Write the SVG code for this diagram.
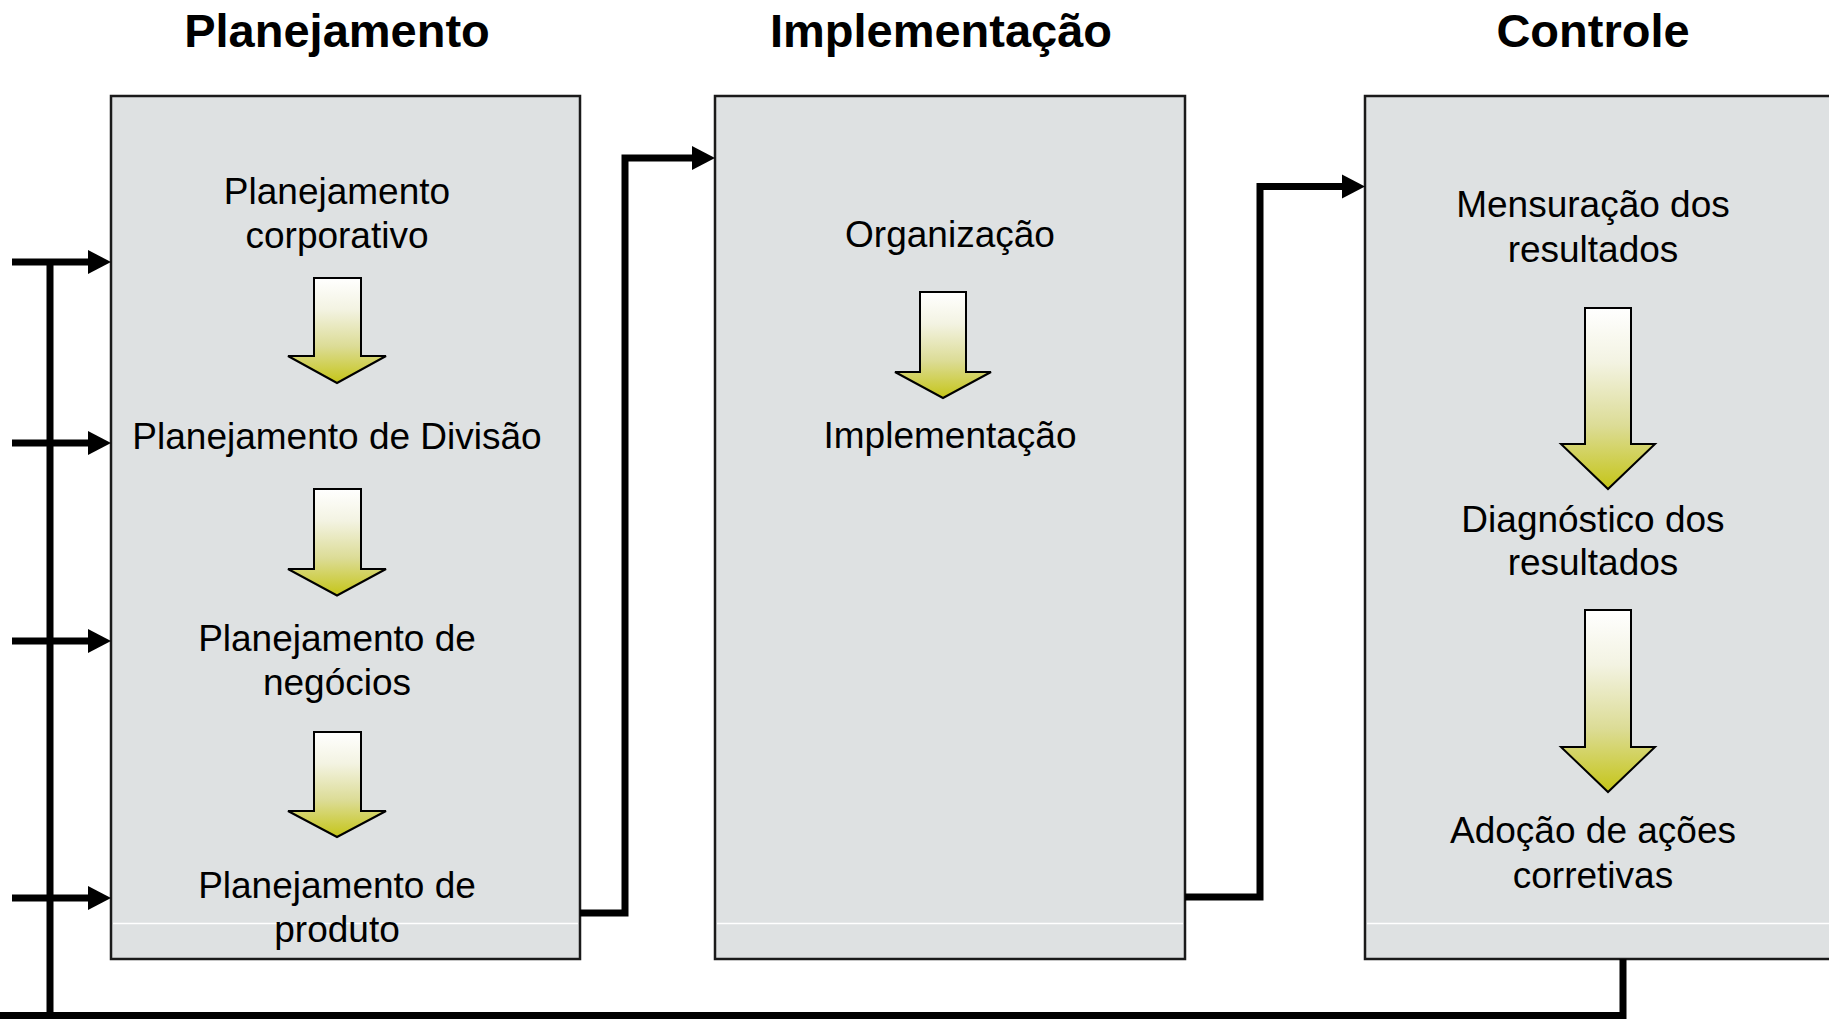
<svg xmlns="http://www.w3.org/2000/svg" width="1829" height="1019" viewBox="0 0 1829 1019">
<style>
.title{font-family:"Liberation Sans",Arial,sans-serif;font-weight:bold;font-size:47px;fill:#000;text-anchor:middle}
.lbl{font-family:"Liberation Sans",Arial,sans-serif;font-size:37px;fill:#000;text-anchor:middle}
.box{fill:#DEE1E2;stroke:#1a1a1a;stroke-width:2.5}
.sep{stroke:#ffffff;stroke-width:1.5}
.down{fill:url(#grad);stroke:#000;stroke-width:2;stroke-linejoin:miter}
.con{fill:none;stroke:#000;stroke-width:7;stroke-linejoin:miter;stroke-linecap:butt}
.head{fill:#000}
</style>
<defs>
<linearGradient id="grad" x1="0" y1="0" x2="0" y2="1">
<stop offset="0" stop-color="#FFFFFF"/>
<stop offset="0.3" stop-color="#F3F3E2"/>
<stop offset="0.65" stop-color="#DCDC96"/>
<stop offset="1" stop-color="#C5C518"/>
</linearGradient>
</defs>

<g id="titles">
<text class="title" x="337" y="47">Planejamento</text>
<text class="title" x="941" y="47">Implementação</text>
<text class="title" x="1593" y="47">Controle</text>
</g>

<g id="node-planejamento">
<rect class="box" x="111" y="96" width="469" height="863"/>
<line class="sep" x1="113" y1="923.5" x2="578" y2="923.5"/>
<text class="lbl" x="337" y="204">Planejamento</text>
<text class="lbl" x="337" y="248">corporativo</text>
<polygon class="down" points="314,278 361,278 361,356 386,356 337,383 288,356 314,356"/>
<text class="lbl" x="337" y="449">Planejamento de Divisão</text>
<polygon class="down" points="314,489 361,489 361,569 386,569 337,595.5 288,569 314,569"/>
<text class="lbl" x="337" y="651">Planejamento de</text>
<text class="lbl" x="337" y="695">negócios</text>
<polygon class="down" points="314,732 361,732 361,811 386,811 337,837 288,811 314,811"/>
<text class="lbl" x="337" y="898">Planejamento de</text>
<text class="lbl" x="337" y="942">produto</text>
</g>

<g id="node-implementacao">
<rect class="box" x="715" y="96" width="470" height="863"/>
<line class="sep" x1="717" y1="923.5" x2="1183" y2="923.5"/>
<text class="lbl" x="950" y="247">Organização</text>
<polygon class="down" points="920,292 966,292 966,372 991,372 943,398 895,372 920,372"/>
<text class="lbl" x="950" y="448">Implementação</text>
</g>

<g id="node-controle">
<rect class="box" x="1365" y="96" width="480" height="863"/>
<line class="sep" x1="1367" y1="923.5" x2="1829" y2="923.5"/>
<text class="lbl" x="1593" y="217">Mensuração dos</text>
<text class="lbl" x="1593" y="262">resultados</text>
<polygon class="down" points="1585,308 1631,308 1631,444 1655,444 1608,489 1561,444 1585,444"/>
<text class="lbl" x="1593" y="532">Diagnóstico dos</text>
<text class="lbl" x="1593" y="575">resultados</text>
<polygon class="down" points="1585,610 1631,610 1631,747 1655,747 1608,792 1561,747 1585,747"/>
<text class="lbl" x="1593" y="843">Adoção de ações</text>
<text class="lbl" x="1593" y="888">corretivas</text>
</g>

<g id="connectors">
<path class="con" d="M580,913 H625 V158 H694"/>
<polygon class="head" points="692,146 715,158 692,170"/>
<path class="con" d="M1185,897 H1260 V186.5 H1344"/>
<polygon class="head" points="1342,174.5 1365,186.5 1342,198.5"/>
<path class="con" d="M1623,959 V1015.5 H0"/>
<path class="con" d="M50,262 V1015.5"/>
<line class="con" x1="12" y1="262" x2="90" y2="262"/>
<polygon class="head" points="88,250 111,262 88,274"/>
<line class="con" x1="12" y1="443" x2="90" y2="443"/>
<polygon class="head" points="88,431 111,443 88,455"/>
<line class="con" x1="12" y1="641" x2="90" y2="641"/>
<polygon class="head" points="88,629 111,641 88,653"/>
<line class="con" x1="12" y1="898" x2="90" y2="898"/>
<polygon class="head" points="88,886 111,898 88,910"/>
</g>
</svg>
